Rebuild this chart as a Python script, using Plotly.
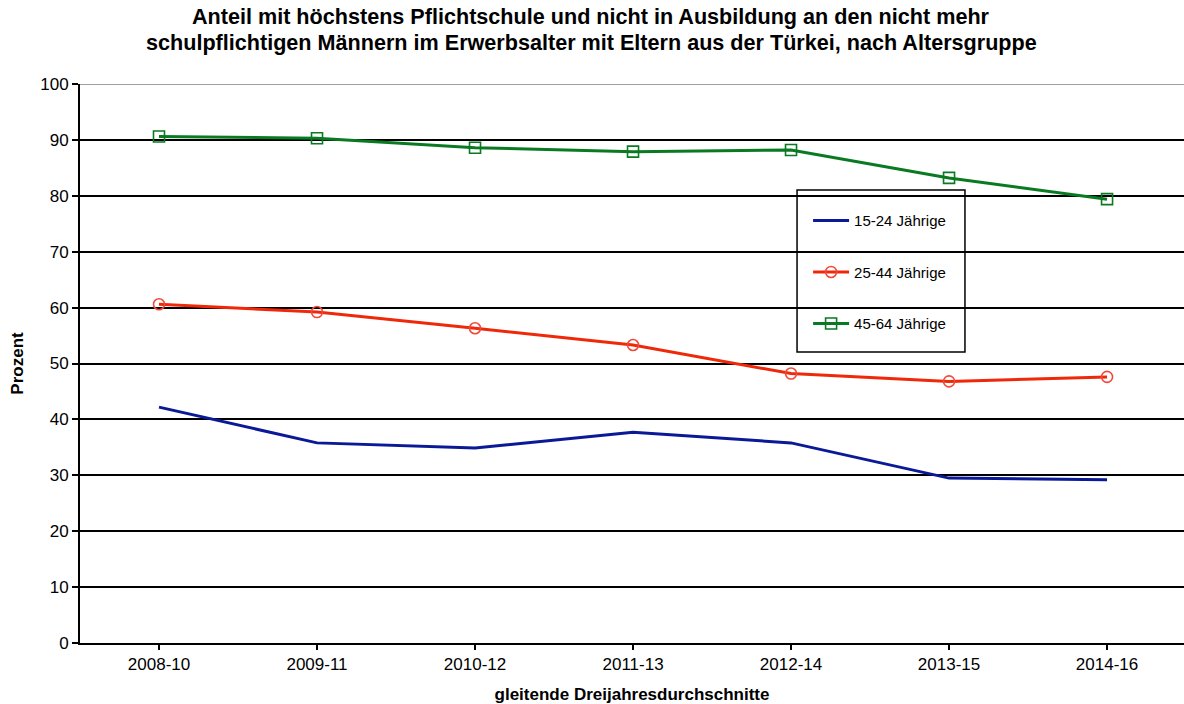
import plotly.graph_objects as go

periods = ["2008-10", "2009-11", "2010-12", "2011-13", "2012-14", "2013-15", "2014-16"]
age_15_24 = [42.2, 35.8, 34.9, 37.7, 35.8, 29.5, 29.2]
age_25_44 = [60.6, 59.2, 56.3, 53.3, 48.2, 46.8, 47.6]
age_45_64 = [90.6, 90.3, 88.6, 87.9, 88.2, 83.2, 79.4]
series_names = ["15-24 Jährige", "25-44 Jährige", "45-64 Jährige"]
y_ticks = list(range(0, 101, 10))
title_lines = [
    "Anteil mit höchstens Pflichtschule und nicht in Ausbildung an den nicht mehr",
    "schulpflichtigen Männern im Erwerbsalter mit Eltern aus der Türkei, nach Altersgruppe",
]

FONT = "Arial, 'Liberation Sans', sans-serif"
BLUE = "#0A1A96"
RED = "#F0280A"
GREEN = "#0A7A22"

fig = go.Figure()
fig.add_trace(go.Scatter(
    x=periods, y=age_15_24, name=series_names[0], mode="lines",
    line=dict(color=BLUE, width=3), legendgroup="a"))
fig.add_trace(go.Scatter(
    x=periods, y=age_25_44, name=series_names[1], mode="lines+markers",
    line=dict(color=RED, width=3),
    marker=dict(symbol="circle-open", size=11, color="#F04A3A", line=dict(width=1.6)),
    legendgroup="b"))
fig.add_trace(go.Scatter(
    x=periods, y=age_45_64, name=series_names[2], mode="lines+markers",
    line=dict(color=GREEN, width=3),
    marker=dict(symbol="square-open", size=11, color=GREEN, line=dict(width=1.6)),
    legendgroup="c"))

# legend frame
fig.add_shape(type="rect", xref="paper", yref="paper",
              x0=0.6495, x1=0.8016, y0=0.5206, y1=0.8104,
              line=dict(color="black", width=1.5), fillcolor="white", layer="below")
# top border of the plot area
fig.add_shape(type="line", xref="paper", yref="y", x0=0, x1=1, y0=100, y1=100,
              line=dict(color="#A0A0A0", width=2), layer="above")

# two-line bold heading, centred on the page
for text, ypos in zip(title_lines, [1.1216, 1.0751]):
    fig.add_annotation(
        text=f"<b>{text}</b>", xref="paper", yref="paper",
        x=(591 - 80) / 1104, y=ypos, xanchor="center", yanchor="middle",
        showarrow=False, font=dict(family=FONT, size=21.6, color="black"))

fig.update_layout(
    width=1184, height=704,
    margin=dict(l=80, r=0, t=84, b=61),
    paper_bgcolor="white", plot_bgcolor="white",
    font=dict(family=FONT, color="black"),
    showlegend=True,
    legend=dict(x=0.6595, xanchor="left", y=0.785, yanchor="top",
                bgcolor="rgba(0,0,0,0)", borderwidth=0,
                traceorder="grouped", tracegroupgap=29, itemwidth=36,
                font=dict(family=FONT, size=15, color="black")),
    xaxis=dict(
        type="category", range=[-0.5, 6.487],
        showgrid=False, showline=True, linecolor="black", linewidth=2,
        ticks="outside", ticklen=5, tickcolor="black", tickwidth=1.5,
        tickfont=dict(family=FONT, size=17),
        title=dict(text="<b>gleitende Dreijahresdurchschnitte</b>", standoff=17,
                   font=dict(family=FONT, size=17))),
    yaxis=dict(
        range=[0, 100], tickvals=y_ticks,
        showgrid=True, gridcolor="black", gridwidth=1.5,
        showline=True, linecolor="black", linewidth=2,
        ticks="outside", ticklen=6, tickcolor="black", tickwidth=1.5,
        tickfont=dict(family=FONT, size=17), zeroline=False,
        title=dict(text="<b>Prozent</b>", standoff=12,
                   font=dict(family=FONT, size=17))),
)

fig.write_html("out.html")
